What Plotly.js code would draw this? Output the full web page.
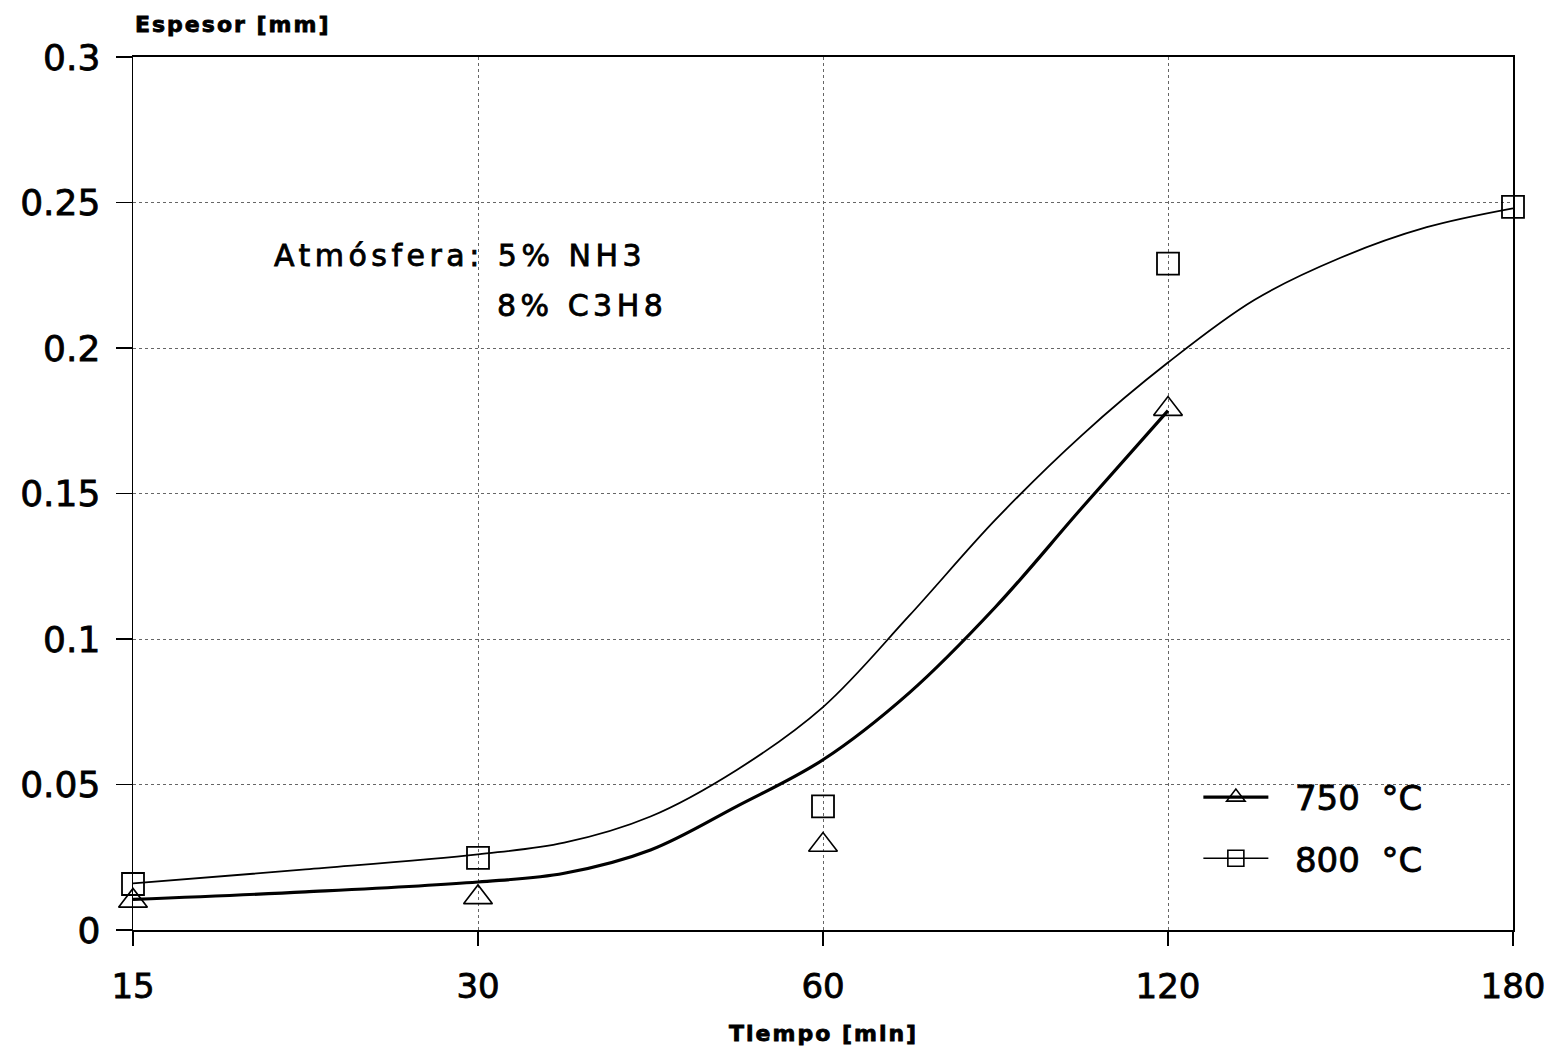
<!DOCTYPE html>
<html>
<head>
<meta charset="utf-8">
<script src="https://cdn.plot.ly/plotly-3.0.1.min.js"></script>
<style>
  html, body { margin: 0; padding: 0; background: #ffffff; }
  #chart { width: 1555px; height: 1052px; }
  .xtick text, .ytick text, .legendtext, .annotation-text { stroke: #000; stroke-width: 0.8px; }
</style>
</head>
<body>
<div id="chart"></div>
<script>
// ---- Data ----
// Time categories (min), drawn equally spaced
const timeCats = ['15', '30', '60', '120', '180'];

// Measured thickness (mm)
const cats750 = ['15', '30', '60', '120'];
const meas750 = [0.0100, 0.0112, 0.0292, 0.1790];
const cats800 = ['15', '30', '60', '120', '180'];
const meas800 = [0.0158, 0.0248, 0.0425, 0.2290, 0.2485];

// Fitted curves: positions on the category scale (0 = 15 min ... 4 = 180 min) and thickness
const fit750Pos = [0, 0.5, 1.0, 1.25, 1.5, 1.75, 2.0, 2.25, 2.5, 2.75, 3.0];
const fit750Val = [0.0105, 0.0131, 0.0165, 0.0195, 0.0275, 0.0425, 0.0585, 0.0815, 0.1110, 0.1450, 0.1785];
const fit800Pos = [0, 0.5, 1.0, 1.25, 1.5, 1.75, 2.0, 2.25, 2.5, 2.75, 3.0, 3.25, 3.5, 3.75, 4.0];
const fit800Val = [0.0160, 0.0208, 0.0260, 0.0300, 0.0390, 0.0550, 0.0766, 0.1080, 0.1410, 0.1700, 0.1950, 0.2165, 0.2310, 0.2415, 0.2480];

const seriesNames = ['\u00a0\u00a0750\u00a0\u00a0°C', '\u00a0\u00a0800\u00a0\u00a0°C'];
const yTicks = [0, 0.05, 0.1, 0.15, 0.2, 0.25, 0.3];
const yTickText = ['0', '0.05', '0.1', '0.15', '0.2', '0.25', '0.3'];

const noteLine1 = 'Atmósfera: 5% NH3';
const noteLine2 = '8% C3H8';
const yTitle = 'Espesor [mm]';
const xTitle = 'Tiempo [min]';

// ---- Build ----
const catIndex = c => timeCats.indexOf(c);
const FONT = 'DejaVu Sans, Verdana, sans-serif';

const traces = [
  { x: fit800Pos, y: fit800Val, mode: 'lines', line: { color: '#000', width: 1.8, shape: 'spline', smoothing: 1 }, showlegend: false, hoverinfo: 'skip' },
  { x: fit750Pos, y: fit750Val, mode: 'lines', line: { color: '#000', width: 3.2, shape: 'spline', smoothing: 1 }, showlegend: false, hoverinfo: 'skip' },
  { x: cats750.map(catIndex), y: meas750, mode: 'markers', cliponaxis: false, showlegend: false,
    marker: { symbol: 'triangle-up-open', size: 25, color: '#000', line: { color: '#000', width: 1.6 } } },
  { x: cats800.map(catIndex), y: meas800, mode: 'markers', cliponaxis: false, showlegend: false,
    marker: { symbol: 'square-open', size: 22, color: '#000', line: { color: '#000', width: 1.8 } } },
  // legend entries
  { x: [null], y: [null], mode: 'lines+markers', name: seriesNames[0], legendgroup: 'a',
    line: { color: '#000', width: 3.2 }, marker: { symbol: 'triangle-up-open', size: 22, color: '#000', line: { color: '#000', width: 1.6 } } },
  { x: [null], y: [null], mode: 'lines+markers', name: seriesNames[1], legendgroup: 'b',
    line: { color: '#000', width: 1.6 }, marker: { symbol: 'square-open', size: 20, color: '#000', line: { color: '#000', width: 1.6 } } }
];

const layout = {
  width: 1555, height: 1052,
  paper_bgcolor: '#ffffff', plot_bgcolor: '#ffffff',
  margin: { l: 133, r: 42, t: 57, b: 122, pad: 0 },
  font: { family: FONT, color: '#000' },
  xaxis: {
    type: 'linear', range: [0, 4],
    tickvals: timeCats.map((c, i) => i), ticktext: timeCats,
    tickfont: { family: FONT, size: 34, color: '#000' },
    ticks: 'outside', ticklen: 14, tickwidth: 1.5, tickcolor: '#000', ticklabelstandoff: 11,
    showline: true, linecolor: '#000', linewidth: 2, mirror: true,
    showgrid: true, gridcolor: '#666', gridwidth: 1, griddash: 'dot',
    zeroline: false, fixedrange: true
  },
  yaxis: {
    range: [0, 0.3],
    tickvals: yTicks, ticktext: yTickText,
    tickfont: { family: FONT, size: 36, color: '#000' },
    ticks: 'outside', ticklen: 16, tickwidth: 1.5, tickcolor: '#000', ticklabelstandoff: 8,
    showline: true, linecolor: '#000', linewidth: 1.5, mirror: true,
    showgrid: true, gridcolor: '#666', gridwidth: 1, griddash: 'dot',
    zeroline: false, fixedrange: true
  },
  showlegend: true,
  legend: {
    x: 0.772, y: 0.185, xanchor: 'left', yanchor: 'top',
    bgcolor: 'rgba(0,0,0,0)', borderwidth: 0,
    font: { family: FONT, size: 34, color: '#000' },
    itemwidth: 65, traceorder: 'grouped', tracegroupgap: 14
  },
  annotations: [
    { xref: 'paper', yref: 'paper', x: (272 - 133) / 1380, y: (930 - 256) / 873, xanchor: 'left', yanchor: 'middle',
      showarrow: false, text: '<span style="letter-spacing:4.5px">' + noteLine1 + '</span>', font: { family: FONT, size: 30, color: '#000' } },
    { xref: 'paper', yref: 'paper', x: (495 - 133) / 1380, y: (930 - 305) / 873, xanchor: 'left', yanchor: 'middle',
      showarrow: false, text: '<span style="letter-spacing:4.5px">' + noteLine2 + '</span>', font: { family: FONT, size: 30, color: '#000' } },
    { xref: 'paper', yref: 'paper', x: 0, y: (930 - 25) / 873, xanchor: 'left', yanchor: 'middle',
      showarrow: false, text: '<span style="letter-spacing:2px">' + yTitle + '</span>', font: { family: FONT, size: 22, color: '#000', weight: 'bold' } },
    { xref: 'paper', yref: 'paper', x: 0.5, y: (930 - 1033) / 873, xanchor: 'center', yanchor: 'middle',
      showarrow: false, text: '<span style="letter-spacing:2px">' + xTitle + '</span>', font: { family: FONT, size: 22, color: '#000', weight: 'bold' } }
  ]
};

Plotly.newPlot('chart', traces, layout, { staticPlot: true, displayModeBar: false });
</script>
</body>
</html>
